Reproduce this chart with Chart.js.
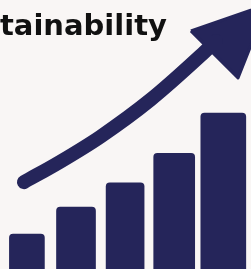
<!DOCTYPE html>
<html>
<head>
<meta charset="utf-8">
<script src="https://cdn.jsdelivr.net/npm/chart.js@4.4.1/dist/chart.umd.min.js"></script>
<style>
  html, body { margin: 0; padding: 0; background: #f9f6f5; overflow: hidden; }
  canvas { display: block; }
</style>
</head>
<body>
<canvas id="myChart" width="251" height="269"></canvas>
<script>
// bars (left to right)
const categories = ['1', '2', '3', '4', '5']
const barValues = [13, 23, 32, 43, 58]
const barWidths = [35, 39, 38, 41, 45]

// growth arrow: shaft centre line and head corners, in chart units
const arrowX = [-0.06, 0.67, 1.49, 2.51, 3.53, 3.85]
const arrowY = [32.3, 39.8, 49.1, 62.8, 79.2, 84.8]
const headX = [3.34, 4.89, 4.30, 3.34]
const headY = [88.5, 98.3, 71.0, 88.5]

const navy = '#25255a'

const datasets = categories.map(function (c, i) {
    return {
        type: 'bar',
        label: c,
        data: [{ x: i, y: barValues[i] }],
        backgroundColor: navy,
        barThickness: barWidths[i],
        borderRadius: 4,
        borderSkipped: 'start',
        stack: 'bars'
    }
})

datasets.push({
    type: 'line',
    label: 'arrow',
    data: arrowX.map((x, i) => ({ x: x, y: arrowY[i] })),
    borderColor: navy,
    borderWidth: 14,
    borderCapStyle: 'round',
    cubicInterpolationMode: 'monotone',
    pointRadius: 0,
    fill: false,
    clip: false
})

datasets.push({
    type: 'line',
    label: 'head',
    data: headX.map((x, i) => ({ x: x, y: headY[i] })),
    borderColor: navy,
    backgroundColor: navy,
    borderWidth: 3,
    borderJoinStyle: 'round',
    tension: 0,
    pointRadius: 0,
    fill: 'shape',
    clip: false
})

const ctx = document.getElementById('myChart')
const myChart = new Chart(ctx, {
    type: 'bar',
    data: { datasets: datasets },
    options: {
        responsive: false,
        animation: false,
        layout: { padding: 0 },
        plugins: {
            legend: { display: false },
            tooltip: { enabled: false },
            title: {
                display: true,
                text: 'tainability',
                align: 'start',
                color: '#111111',
                font: { family: 'DejaVu Sans', weight: 'bold', size: 29, lineHeight: 1.2 },
                // title overlays the plot instead of taking room from it
                padding: { top: 10, bottom: -45 }
            }
        },
        scales: {
            x: {
                type: 'linear',
                display: false,
                stacked: true,
                offset: false,
                min: -0.548,
                max: 4.564
            },
            y: {
                display: false,
                min: 0,
                max: 100
            }
        }
    }
})
</script>
</body>
</html>
